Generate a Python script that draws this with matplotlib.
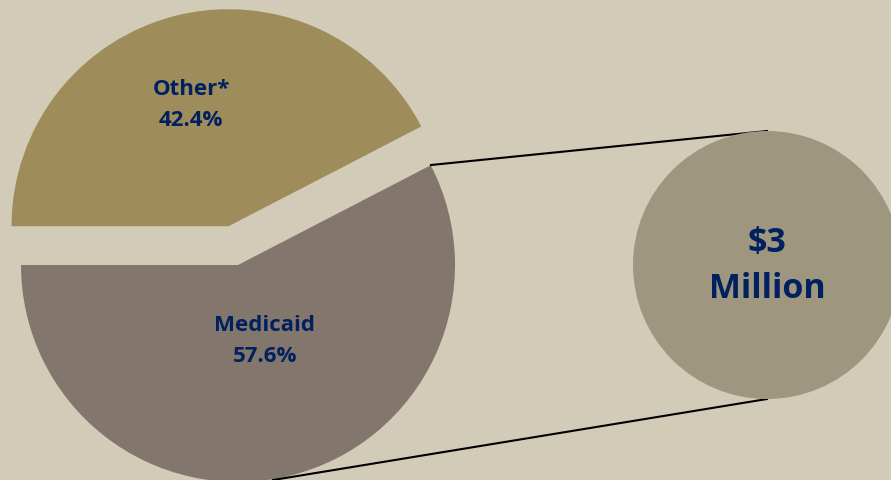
import matplotlib
matplotlib.use("Agg")
import matplotlib.pyplot as plt
from matplotlib.patches import Circle

# Data
categories = ["Medicaid", "Other*"]
shares = [57.6, 42.4]
slice_labels = ["Medicaid\n57.6%", "Other*\n42.4%"]
total_label = "$3\nMillion"

BG = "#d1cbb8"
COLORS = ["#83776d", "#9e8c5a"]
CIRCLE = "#9e967e"
NAVY = "#002060"

W, H = 891, 480
fig = plt.figure(figsize=(W / 100, H / 100), dpi=100, facecolor=BG)
ax = fig.add_axes([0, 0, 1, 1])
ax.set_facecolor(BG)

cx, cy, r = 238, 215, 217
wedges, _ = ax.pie(shares, colors=COLORS, startangle=180, counterclock=True,
                   explode=[0, 0.184 * r], center=(cx, cy), radius=r,
                   wedgeprops=dict(linewidth=0))

font = ["Open Sans", "DejaVu Sans"]
ax.text(265, 480 - 341, slice_labels[0], ha="center", va="center", color=NAVY,
        fontsize=16, fontweight="bold", family=font, linespacing=1.6)
ax.text(191, 480 - 105, slice_labels[1], ha="center", va="center", color=NAVY,
        fontsize=16, fontweight="bold", family=font, linespacing=1.6)

# Breakout circle
ccx, ccy, cr = 767, 215, 134
ax.add_patch(Circle((ccx, ccy), cr, facecolor=CIRCLE, edgecolor="none", zorder=2))
ax.text(ccx, 480 - 266, total_label, ha="center", va="center", color=NAVY,
        fontsize=24.5, fontweight="bold", family=font, linespacing=1.5, zorder=3)

# Connector lines
ax.plot([431, ccx], [480 - 165, ccy + cr], color="black", lw=1.5, zorder=1)
ax.plot([273, ccx], [0, ccy - cr], color="black", lw=1.5, zorder=1)

ax.set_xlim(0, W)
ax.set_ylim(0, H)
ax.set_aspect("equal")
ax.axis("off")

fig.savefig("out.png", dpi=100, facecolor=BG)
